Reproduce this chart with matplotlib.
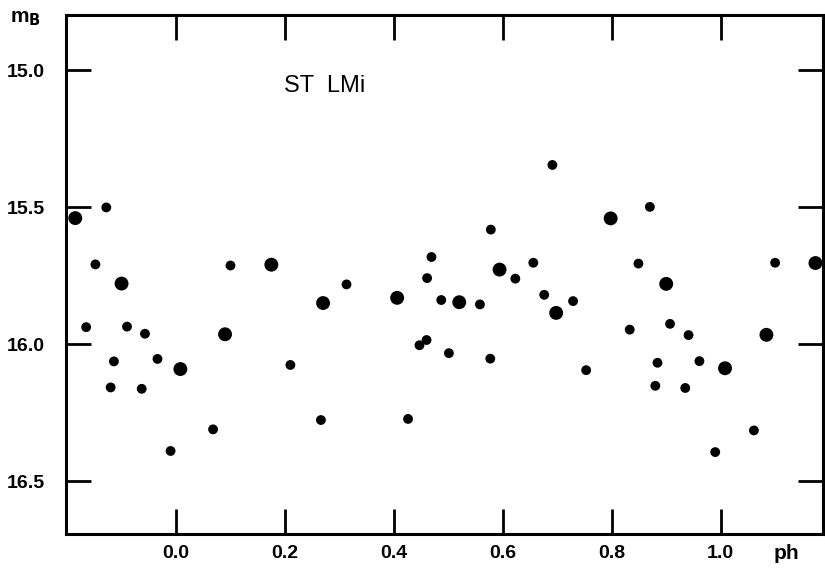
import matplotlib
matplotlib.use("Agg")
from matplotlib import pyplot as plt

# light curve of ST LMi
# big dots
phase_big = [-0.185, -0.100, 0.175, 0.270, 0.406, 0.594, 0.798, 0.900, 1.174,
             0.520, 0.698, 1.084, 0.090, 0.008, 1.008]
mag_big = [15.540, 15.779, 15.710, 15.850, 15.831, 15.728, 15.541, 15.780, 15.704,
           15.847, 15.886, 15.966, 15.964, 16.091, 16.088]

# small dots
phase_small = [-0.128, -0.148, 0.100, 0.313, 0.469, 0.461, 0.578, 0.623, 0.656,
               0.691, 0.870, 0.849, 1.100, 0.487, 0.558, 0.676, 0.729, 0.833,
               0.907, 0.941, -0.165, -0.090, -0.057, -0.114, -0.034, 0.210,
               -0.120, -0.063, 0.266, 0.426, 0.068, -0.010, 0.447, 0.460,
               0.501, 0.577, 0.753, 0.884, 0.961, 0.880, 0.935, 1.061, 0.990]
mag_small = [15.501, 15.709, 15.713, 15.782, 15.682, 15.759, 15.582, 15.761, 15.703,
             15.346, 15.499, 15.706, 15.703, 15.839, 15.855, 15.820, 15.843, 15.947,
             15.926, 15.967, 15.938, 15.936, 15.962, 16.063, 16.054, 16.076,
             16.158, 16.163, 16.277, 16.273, 16.311, 16.390, 16.004, 15.985,
             16.033, 16.053, 16.095, 16.068, 16.062, 16.152, 16.160, 16.315, 16.394]

x_ticks = [0.0, 0.2, 0.4, 0.6, 0.8, 1.0]
x_labels = ["0.0", "0.2", "0.4", "0.6", "0.8", "1.0"]
y_ticks = [15.0, 15.5, 16.0, 16.5]
y_labels = ["15.0", "15.5", "16.0", "16.5"]

plt.rcParams['font.family'] = ['Liberation Sans', 'DejaVu Sans']

fig = plt.figure(figsize=(8.25, 5.69), dpi=100)
ax = fig.add_axes([0.080, 0.0615, 0.917, 0.912])

ax.scatter(phase_big, mag_big, s=100, color="black", edgecolors="none", zorder=3)
ax.scatter(phase_small, mag_small, s=50, color="black", edgecolors="none", zorder=3)

ax.set_xlim(-0.202, 1.187)
ax.set_ylim(16.693, 14.799)

ax.set_xticks(x_ticks)
ax.set_xticklabels(x_labels)
ax.set_yticks(y_ticks)
ax.set_yticklabels(y_labels)

ax.tick_params(direction="in", length=18, width=2.0, top=True, right=True,
               labelsize=14)
ax.tick_params(axis="x", pad=8)
ax.tick_params(axis="y", pad=15)
for lab in ax.get_xticklabels() + ax.get_yticklabels():
  lab.set_fontweight("bold")

for sp in ax.spines.values():
  sp.set_linewidth(2.2)

ax.text(0.342, 0.863, "ST  LMi", transform=ax.transAxes, fontsize=17,
        ha="center", va="center")
ax.text(1.121, -0.038, "ph", transform=ax.get_xaxis_transform(), fontsize=15,
        fontweight="bold", ha="center", va="center")

fig.text(0.012, 0.968, "m$_\\mathbf{B}$", fontsize=15, fontweight="bold",
         ha="left", va="center")

fig.savefig("out.png", dpi=100)
